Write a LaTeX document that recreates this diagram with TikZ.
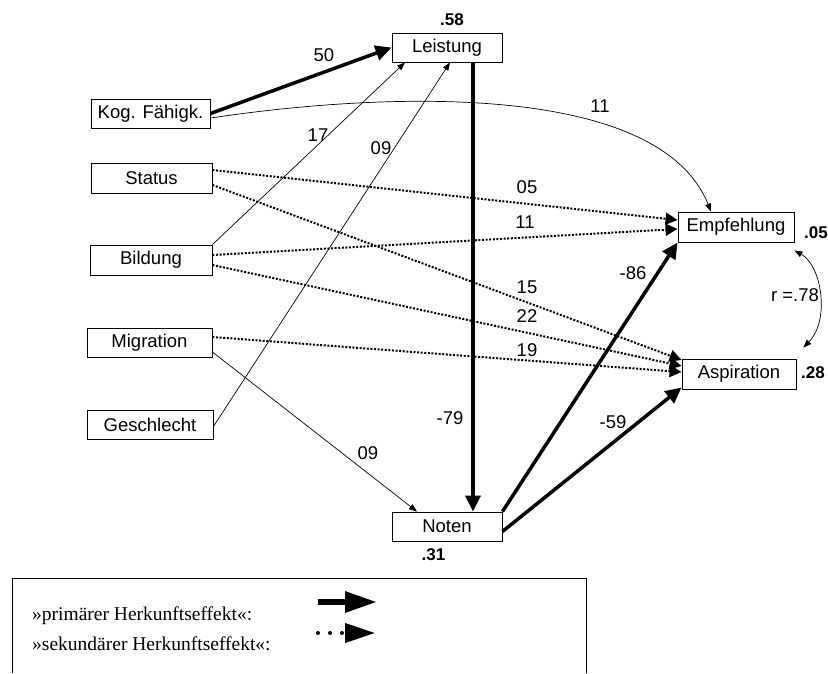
\documentclass[tikz,border=0pt]{standalone}
\usepackage{fontspec}
\setmainfont{Liberation Sans}
\newfontfamily\legfont{Liberation Serif}
\usetikzlibrary{arrows.meta}

\begin{document}
\begin{tikzpicture}[x=1pt, y=-1pt,
  every node/.style={inner sep=0pt, font=\fontsize{18.5}{20}\selectfont},
  var/.style={draw, line width=0.9pt, minimum height=29pt},
  rsq/.style={font=\fontsize{17}{20}\selectfont\bfseries},
  prim/.style={line width=3.5pt, -{Triangle[length=16pt, width=15pt]}},
  sek/.style={line width=2pt, dash pattern=on 2pt off 1.6pt, -{Triangle[length=12pt, width=12pt]}},
  pfad/.style={line width=0.7pt, -{Triangle[length=8pt, width=6pt]}},
  korr/.style={line width=0.7pt, {Triangle[length=8pt, width=6pt]}-{Triangle[length=8pt, width=6pt]}}]
\useasboundingbox (0,0) rectangle (828,673);

% Variablen
\node[var, minimum width=110pt] (leistung) at (447,47.5) {Leistung};
\node[var, minimum width=119pt] (kog) at (150.5,113.5) {Kog. Fähigk.};
\node[var, minimum width=121pt, minimum height=30pt] (status) at (151.5,178) {Status};
\node[var, minimum width=122pt, minimum height=30pt] (bildung) at (151,260) {Bildung};
\node[var, minimum width=125pt] (migr) at (149.5,342.5) {Migration};
\node[var, minimum width=126pt] (gesch) at (150,424.5) {Geschlecht};
\node[var, minimum width=110pt] (noten) at (447,526.5) {Noten};
\node[var, minimum width=116pt, minimum height=30pt] (empf) at (736,227) {Empfehlung};
\node[var, minimum width=114pt, minimum height=30pt] (asp) at (739,374) {Aspiration};

\node[rsq] (r58) at (452,20) {.58};
\node[rsq] (r05) at (816,233) {.05};
\node[rsq] (r28) at (813,373) {.28};
\node[rsq] (r31) at (433.5,555) {.31};

% Pfade
\draw[prim] (kog.east) -- (leistung.west);
\draw[pfad] ([yshift=-4.5pt]kog.east) .. controls +(188,-28) and +(-51,-127) .. ([xshift=-25pt]empf.north);
\draw[pfad] (bildung.north east) -- ([xshift=-42pt]leistung.south);
\draw[pfad] ([yshift=-2pt]gesch.east) -- ([xshift=3pt]leistung.south);
\draw[sek] ([yshift=8pt]status.east) -- ([yshift=7pt]empf.west);
\draw[sek] ([yshift=5pt]bildung.east) -- ([yshift=-2pt]empf.west);
\draw[sek] ([yshift=-7pt]status.east) -- ([yshift=14pt]asp.west);
\draw[sek] ([yshift=-5pt]bildung.east) -- ([yshift=8pt]asp.west);
\draw[sek] ([yshift=5.5pt]migr.east) -- ([yshift=2pt]asp.west);
\draw[pfad] ([yshift=-9.5pt]migr.east) -- ([xshift=-30pt]noten.north);
\draw[prim] ([xshift=26pt]leistung.south) -- ([xshift=26pt]noten.north);
\draw[prim] (noten.north east) -- (empf.south west);
\draw[prim] ([yshift=-5pt]noten.east) -- ([yshift=2pt]asp.south west);
\draw[korr] ([yshift=-8pt]empf.south east) .. controls +(27,15) and +(27,-28) .. ([xshift=7pt, yshift=11pt]asp.north east);

\node (c50) at (324,55) {50};
\node (c11a) at (600,106) {11};
\node (c17) at (318,135) {17};
\node (c09a) at (381,148) {09};
\node (c05) at (527,187) {05};
\node (c11b) at (525,222) {11};
\node (c86) at (633,273) {-86};
\node (c15) at (527,287) {15};
\node (c22) at (527,316) {22};
\node (c19) at (527,350) {19};
\node (c79) at (450,418) {-79};
\node (c59) at (613,422) {-59};
\node (c09b) at (368,453) {09};
\node (r) at (795,295) {r =.78};

% Legende
\draw[line width=1pt] (12,673) -- (12,578) -- (586,578) -- (586,673);
\node[anchor=base west, font=\legfont\fontsize{19.5}{22}\selectfont] (lprim) at (32,620) {»primärer Herkunftseffekt«:};
\node[anchor=base west, font=\legfont\fontsize{19.5}{22}\selectfont] (lsek) at (32,650) {»sekundärer Herkunftseffekt«:};
\coordinate (pa) at (318,602);
\coordinate (pb) at (377,602);
\coordinate (sa) at (318,633);
\coordinate (sb) at (375,633);
\draw[line width=6pt, -{Triangle[length=32pt, width=20pt]}] (pa) -- (pb);
\draw[line width=4pt, line cap=round, dash pattern=on 0pt off 12pt, -{Triangle[length=30pt, width=19pt]}] (sa) -- (sb);
\end{tikzpicture}
\end{document}
